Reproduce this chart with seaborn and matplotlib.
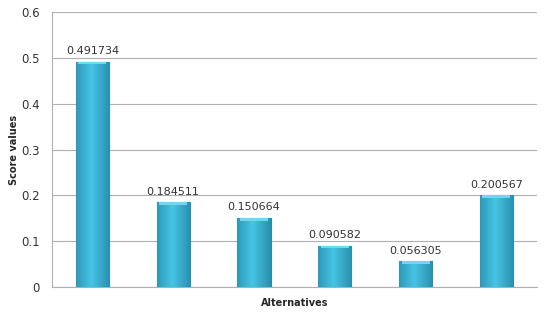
import numpy as np
import pandas as pd
import matplotlib
matplotlib.use("Agg")
import matplotlib.pyplot as plt
import seaborn as sns

alternatives = ["A1", "A2", "A3", "A4", "A5", "A6"]
scores = [0.491734, 0.184511, 0.150664, 0.090582, 0.056305, 0.200567]
labels = ["0.491734", "0.184511", "0.150664", "0.090582", "0.056305", "0.200567"]
yticks = [0, 0.1, 0.2, 0.3, 0.4, 0.5, 0.6]
ytick_labels = ["0", "0.1", "0.2", "0.3", "0.4", "0.5", "0.6"]

df = pd.DataFrame({"Alternative": alternatives, "Score": scores})

sns.set_style("white")
plt.rcParams["font.family"] = ["DejaVu Sans"]

fig = plt.figure(figsize=(5.5, 3.2), dpi=100)
ax = fig.add_axes([0.0945, 0.103, 0.8815, 0.8595])

sns.barplot(data=df, x="Alternative", y="Score", color="#38b6d8",
            width=0.41, saturation=1, edgecolor="#2a8aa8", linewidth=0.8,
            ax=ax, zorder=3)

# horizontal shading to mimic the 3D look
grad = np.linspace(0, 1, 64)
shade = np.abs(grad - 0.45) * 2
cmap = matplotlib.colors.LinearSegmentedColormap.from_list(
    "bar", ["#45c4e4", "#2a8fae"])
for patch in ax.patches:
    x0, y0 = patch.get_x(), patch.get_y()
    w, h = patch.get_width(), patch.get_height()
    im = ax.imshow(shade[np.newaxis, :], cmap=cmap, aspect="auto",
                   extent=[x0, x0 + w, y0, y0 + h], zorder=3.5)
    im.set_clip_path(patch)
    # light top cap
    ax.fill_between([x0 + w * 0.08, x0 + w * 0.92], y0 + h - 0.006, y0 + h,
                    color="#6fd8f0", zorder=3.6, linewidth=0)

for i, (v, t) in enumerate(zip(scores, labels)):
    ax.text(i, v + 0.012, t, ha="center", va="bottom", fontsize=8,
            color="#333333", zorder=4)

ax.set_xlim(-0.5, len(alternatives) - 0.5)
ax.set_ylim(0, 0.6)
ax.set_yticks(yticks)
ax.set_yticklabels(ytick_labels)
ax.set_xticks([])
ax.yaxis.grid(True, color="#b0b0b0", linewidth=0.8, zorder=0)
ax.tick_params(axis="y", labelsize=8.5, colors="#333333", length=0, pad=9)
for s in ["top", "right"]:
    ax.spines[s].set_visible(False)
for s in ["left", "bottom"]:
    ax.spines[s].set_color("#b0b0b0")
    ax.spines[s].set_linewidth(0.8)

ax.set_xlabel("Alternatives", fontsize=7, fontweight="bold", labelpad=8)
ax.set_ylabel("Score values", fontsize=7, fontweight="bold", labelpad=1)

fig.savefig("out.png", dpi=100)
